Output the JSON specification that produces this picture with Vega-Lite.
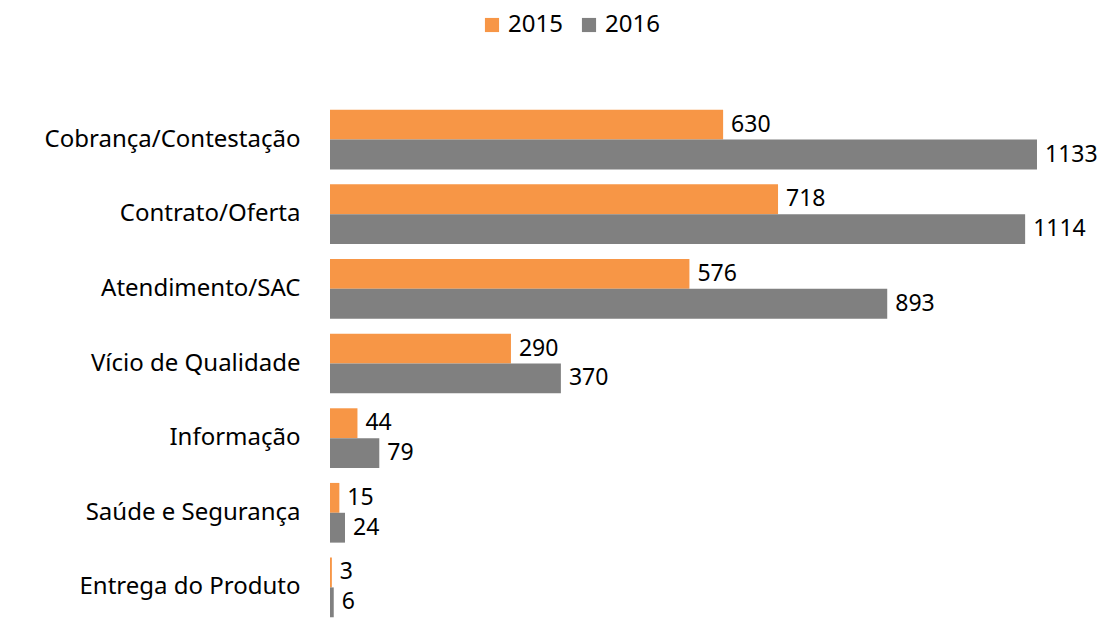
{
  "$schema": "https://vega.github.io/schema/vega-lite/v6.json",
  "autosize": {"type": "none"},
  "padding": {"left": 330, "top": 106, "right": 2, "bottom": 0},
  "width": 780,
  "height": 515,
  "background": "white",
  "config": {"view": {"stroke": null}, "font": "Noto Sans"},
  "data": {"values": [
    {"cat": "Cobrança/Contestação", "ano": "2015", "v": 630},
    {"cat": "Cobrança/Contestação", "ano": "2016", "v": 1133},
    {"cat": "Contrato/Oferta", "ano": "2015", "v": 718},
    {"cat": "Contrato/Oferta", "ano": "2016", "v": 1114},
    {"cat": "Atendimento/SAC", "ano": "2015", "v": 576},
    {"cat": "Atendimento/SAC", "ano": "2016", "v": 893},
    {"cat": "Vício de Qualidade", "ano": "2015", "v": 290},
    {"cat": "Vício de Qualidade", "ano": "2016", "v": 370},
    {"cat": "Informação", "ano": "2015", "v": 44},
    {"cat": "Informação", "ano": "2016", "v": 79},
    {"cat": "Saúde e Segurança", "ano": "2015", "v": 15},
    {"cat": "Saúde e Segurança", "ano": "2016", "v": 24},
    {"cat": "Entrega do Produto", "ano": "2015", "v": 3},
    {"cat": "Entrega do Produto", "ano": "2016", "v": 6}
  ]},
  "encoding": {
    "y": {
      "field": "cat", "type": "nominal", "sort": null,
      "scale": {"paddingInner": 0.2, "paddingOuter": 0.05},
      "axis": {"title": null, "domain": false, "ticks": false, "labelFontSize": 24, "labelColor": "#000000", "labelPadding": 30, "labelLimit": 0, "labelFont": "Noto Sans"}
    },
    "yOffset": {"field": "ano", "type": "nominal", "sort": ["2015", "2016"]},
    "x": {"field": "v", "type": "quantitative", "scale": {"domain": [0, 1250]}, "axis": null}
  },
  "layer": [
    {
      "mark": {"type": "bar"},
      "encoding": {
        "color": {
          "field": "ano", "type": "nominal",
          "scale": {"domain": ["2015", "2016"], "range": ["#F79646", "#808080"]},
          "legend": {
            "title": null, "orient": "none", "direction": "horizontal",
            "legendX": 150, "legendY": -93,
            "symbolType": "square", "symbolSize": 200, "symbolStrokeWidth": 0,
            "labelFontSize": 24, "labelColor": "#000000", "columnPadding": 14, "labelOffset": 4
          }
        }
      }
    },
    {
      "mark": {"type": "text", "align": "left", "dx": 8, "fontSize": 23, "color": "#000000"},
      "encoding": {"text": {"field": "v", "type": "quantitative"}}
    }
  ]
}
